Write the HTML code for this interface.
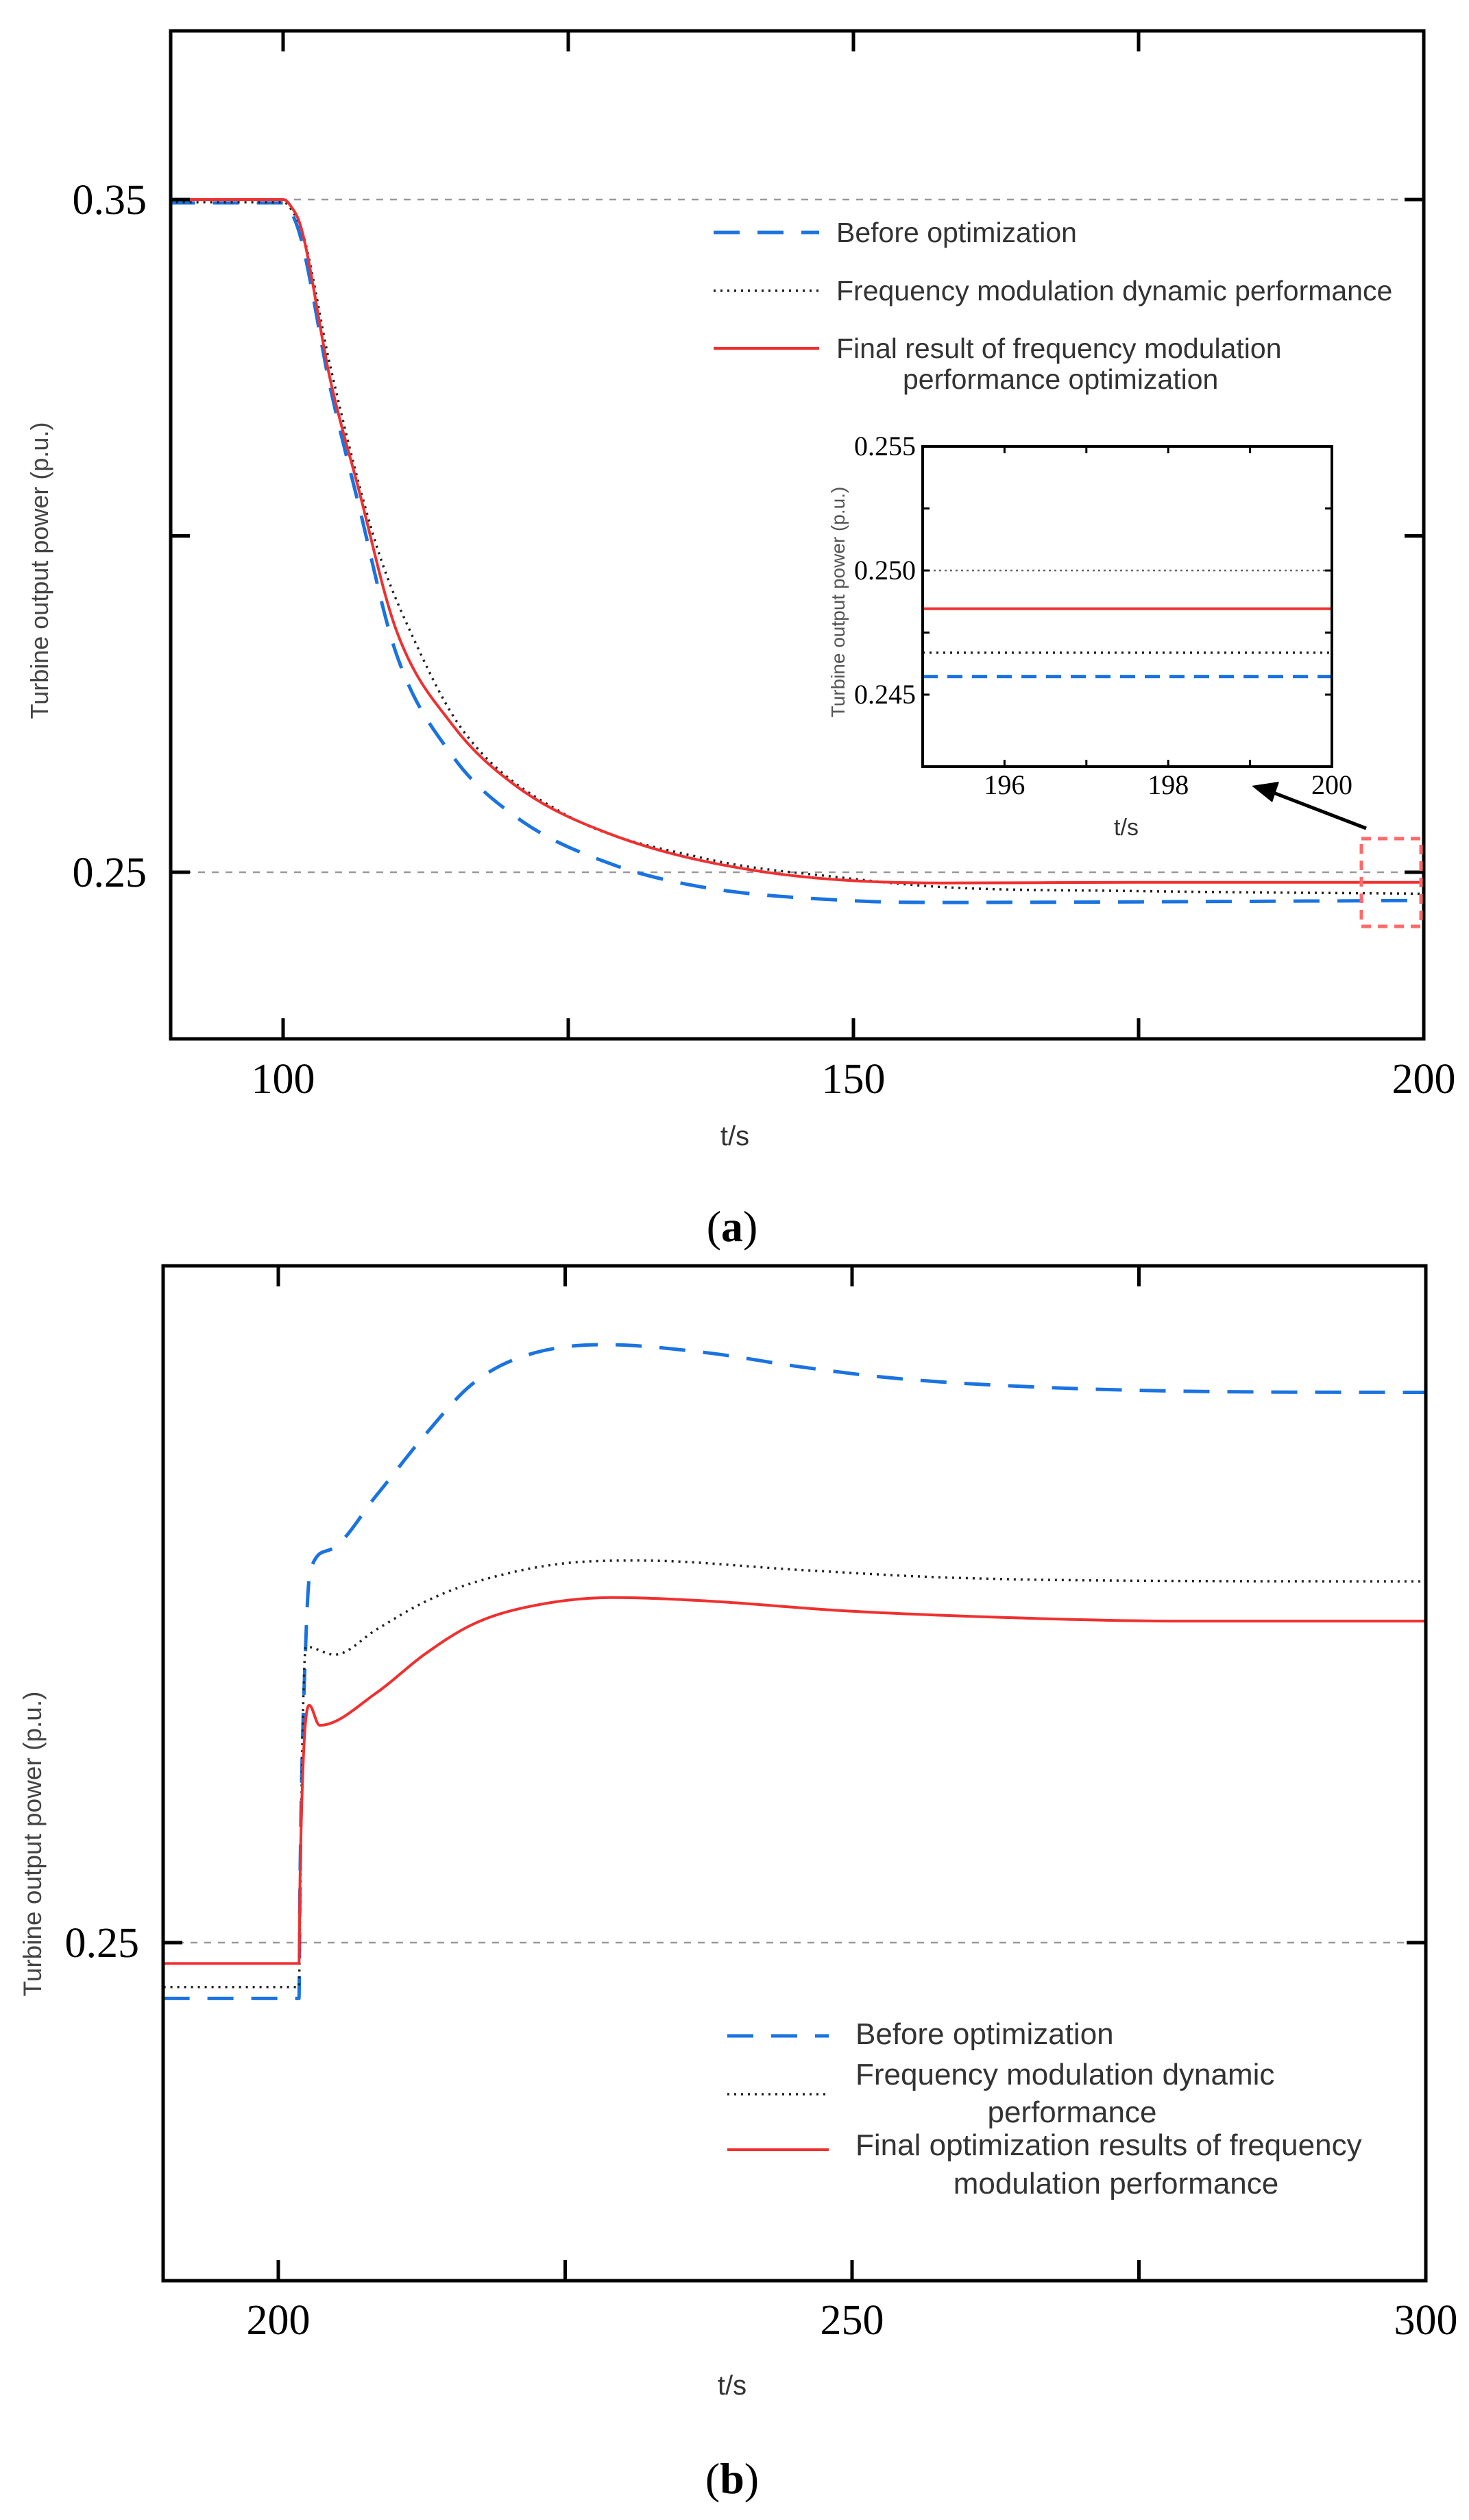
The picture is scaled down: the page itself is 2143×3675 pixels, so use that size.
<!DOCTYPE html>
<html><head><meta charset="utf-8"><style>
html,body{margin:0;padding:0;background:#fff;}
svg{display:block;}
.sans{font-family:"Liberation Sans",sans-serif;}
.serif{font-family:"Liberation Serif",serif;}
</style></head><body>
<svg id="fig" width="2143" height="3675" viewBox="0 0 2143 3675" xmlns="http://www.w3.org/2000/svg"></svg>
<script>
// ---------- Data: panel (a) ----------
const aBlueT = [90,100,100.6,101.6,104.1,106.6,109.9,114.8,120.6,128.8,137.1,149.5,157.8,175,200];
const aBlueV = [0.3495,0.3495,0.3485,0.3440,0.3223,0.3048,0.2826,0.2674,0.2580,0.2512,0.2477,0.2458,0.2455,0.2456,0.2458];
const aDotT = [90,100,100.6,101.8,104.1,108.2,111.5,115.8,124.3,137.1,149.5,157.8,175,200];
const aDotV = [0.3496,0.3496,0.3488,0.3445,0.3255,0.2985,0.2845,0.2710,0.2590,0.2520,0.2491,0.2478,0.2472,0.2468];
const aRedT = [90,100,100.6,101.6,104.1,106.6,109.9,114.8,120.6,128.8,141.2,157.8,175,200];
const aRedV = [0.3500,0.3500,0.3492,0.3457,0.3235,0.3071,0.2861,0.2720,0.2626,0.2556,0.2503,0.2484,0.2485,0.2485];
const aXTicks = [100,150,200];
const aXMinor = [125,175];
const aYTicks = [0.35,0.25];
const aYMinor = [0.30];
// inset
const inLevels = {blue:0.24573, dot:0.24669, red:0.24846};
const inYTicks = [0.255,0.250,0.245];
const inXTicks = [196,198,200];
const inXMinor = [197,199];
// ---------- Data: panel (b) ----------
const bBlueT = [190,201.8,201.9,202.4,202.8,204.5,208.6,212.7,216.8,220.9,228.3,237.3,245.5,253.7,266.0,282.4,300];
const bBlueV = [0.2417,0.2417,0.2600,0.2950,0.3054,0.3084,0.3166,0.3253,0.3329,0.3369,0.3389,0.3377,0.3356,0.3339,0.3326,0.3319,0.3318];
const bDotT = [190,201.8,201.9,202.1,202.4,204.9,208.6,212.7,216.8,225.0,231.5,245.5,257.8,274.3,300];
const bDotV = [0.2434,0.2434,0.2550,0.2800,0.2940,0.2928,0.2966,0.3006,0.3034,0.3064,0.3068,0.3054,0.3043,0.3038,0.3037];
const bRedT = [190,201.8,201.9,202.2,202.7,203.6,208.6,212.7,216.8,220.9,229.1,237.3,249.6,266.0,278.3,300];
const bRedV = [0.2469,0.2469,0.2600,0.2780,0.2853,0.2823,0.2872,0.2928,0.2972,0.2996,0.3013,0.3008,0.2993,0.2982,0.2978,0.2978];
const bXTicks = [200,250,300];
const bXMinor = [225,275];
const bYTicks = [0.25];

const NS="http://www.w3.org/2000/svg";
const svg=document.getElementById('fig');
function el(tag,attrs,parent){const e=document.createElementNS(NS,tag);for(const k in attrs)e.setAttribute(k,attrs[k]);(parent||svg).appendChild(e);return e;}
function txt(s,attrs,parent){const e=el('text',attrs,parent);e.textContent=s;return e;}
// monotone cubic (Fritsch-Carlson) path from data -> pixel via sx, sy
function monoPath(T,V,sx,sy){
  const n=T.length,d=[],m=new Array(n);
  for(let i=0;i<n-1;i++)d.push((V[i+1]-V[i])/(T[i+1]-T[i]));
  m[0]=d[0];m[n-1]=d[n-2];
  for(let i=1;i<n-1;i++){m[i]=(d[i-1]*d[i]<=0)?0:(d[i-1]+d[i])/2;}
  for(let i=0;i<n-1;i++){
    if(d[i]===0){m[i]=0;m[i+1]=0;continue;}
    const a=m[i]/d[i],b=m[i+1]/d[i],s=a*a+b*b;
    if(s>9){const t=3/Math.sqrt(s);m[i]=t*a*d[i];m[i+1]=t*b*d[i];}
  }
  let p='M'+sx(T[0]).toFixed(1)+','+sy(V[0]).toFixed(1);
  for(let i=0;i<n-1;i++){
    const h=T[i+1]-T[i];
    const c1t=T[i]+h/3,c1v=V[i]+m[i]*h/3,c2t=T[i+1]-h/3,c2v=V[i+1]-m[i+1]*h/3;
    p+=' C'+sx(c1t).toFixed(1)+','+sy(c1v).toFixed(1)+' '+sx(c2t).toFixed(1)+','+sy(c2v).toFixed(1)+' '+sx(T[i+1]).toFixed(1)+','+sy(V[i+1]).toFixed(1);
  }
  return p;
}
const STY={
  blue:{stroke:'#1a73e0','stroke-width':5,'stroke-dasharray':'38 26',fill:'none'},
  dot:{stroke:'#222','stroke-width':3.5,'stroke-dasharray':'3 7',fill:'none'},
  red:{stroke:'#f03030','stroke-width':4,fill:'none'}
};

// ---------- Panel (a) ----------
const A={L:249,R:2077,T:45,B:1515};
const ax=t=>413+(t-100)*(2077-413)/100;
const ay=v=>1272-(v-0.25)*(1272-291)/0.10;
const gA=el('g',{});


aYTicks.forEach(v=>{const l=el('line',{x1:A.L,x2:A.R,y1:ay(v),y2:ay(v),stroke:'#999','stroke-width':2.5,'stroke-dasharray':'10 10'},gA);
});
[[aBlueT,aBlueV,'blue'],[aDotT,aDotV,'dot'],[aRedT,aRedV,'red']].forEach(([T,V,k])=>{
  const p=el('path',Object.assign({d:monoPath(T,V,ax,ay)},STY[k]),gA);
  
  
});
const fa=el('rect',{x:A.L,y:A.T,width:A.R-A.L,height:A.B-A.T,fill:'none',stroke:'#000','stroke-width':5},gA);

aXTicks.concat(aXMinor).forEach(t=>{
  el('line',{x1:ax(t),x2:ax(t),y1:A.T,y2:A.T+30,stroke:'#000','stroke-width':5},gA);
  el('line',{x1:ax(t),x2:ax(t),y1:A.B,y2:A.B-30,stroke:'#000','stroke-width':5},gA);
});
aYTicks.concat(aYMinor).forEach(v=>{
  el('line',{x1:A.L,x2:A.L+28,y1:ay(v),y2:ay(v),stroke:'#000','stroke-width':5},gA);
  el('line',{x1:A.R,x2:A.R-28,y1:ay(v),y2:ay(v),stroke:'#000','stroke-width':5},gA);
});
aXTicks.forEach(t=>{const e=txt(String(t),{x:ax(t),y:1594,'text-anchor':'middle','font-size':62,class:'serif',fill:'#000'},gA);
});
aYTicks.forEach(v=>{const e=txt(v.toFixed(2),{x:214,y:ay(v)+21,'text-anchor':'end','font-size':62,class:'serif',fill:'#000'},gA);
});
const xta=txt('t/s',{x:1072,y:1670,'text-anchor':'middle','font-size':40,class:'sans',fill:'#333'},gA);

const yta=txt('Turbine output power (p.u.)',{x:0,y:0,'text-anchor':'middle','font-size':36,class:'sans',fill:'#444',transform:'translate(70,832) rotate(-90)'},gA);

const lgA=el('g',{},gA);

[['blue',339,'Before optimization'],['dot',424,'Frequency modulation dynamic performance'],['red',508,'Final result of frequency modulation']].forEach(([k,y,s])=>{
  el('line',Object.assign({x1:1041,x2:1195,y1:y,y2:y},STY[k]),lgA);
  const e=txt(s,{x:1220,y:y+14,'font-size':41,class:'sans',fill:'#333'},lgA);
  
});
txt('performance optimization',{x:1317,y:567,'font-size':41,class:'sans',fill:'#333'},lgA);
// inset
const I={L:1346,R:1943,T:651,B:1118};
const ix=t=>1346+(t-195)*(1943-1346)/5;
const iy=v=>832-(v-0.250)*(832-651)/0.005;
const gI=el('g',{},gA);

el('rect',{x:I.L,y:I.T,width:I.R-I.L,height:I.B-I.T,fill:'#fff'},gI);
el('line',{x1:I.L,x2:I.R,y1:iy(0.250),y2:iy(0.250),stroke:'#666','stroke-width':2.5,'stroke-dasharray':'3 5'},gI);
[['red',inLevels.red],['dot',inLevels.dot],['blue',inLevels.blue]].forEach(([k,v])=>{
  const s=Object.assign({},STY[k]);if(k==='blue')s['stroke-dasharray']='22 14';
  const l=el('line',Object.assign({x1:I.L,x2:I.R,y1:iy(v),y2:iy(v)},s),gI);
  
});
el('rect',{x:I.L,y:I.T,width:I.R-I.L,height:I.B-I.T,fill:'none',stroke:'#000','stroke-width':4},gI);
inXTicks.concat(inXMinor).forEach(t=>{
  el('line',{x1:ix(t),x2:ix(t),y1:I.B,y2:I.B-10,stroke:'#000','stroke-width':3},gI);
  el('line',{x1:ix(t),x2:ix(t),y1:I.T,y2:I.T+10,stroke:'#000','stroke-width':3},gI);
});
[0.2475,0.2525].concat(inYTicks).forEach(v=>{
  el('line',{x1:I.L,x2:I.L+10,y1:iy(v),y2:iy(v),stroke:'#000','stroke-width':3},gI);
  el('line',{x1:I.R,x2:I.R-10,y1:iy(v),y2:iy(v),stroke:'#000','stroke-width':3},gI);
});
inXTicks.forEach(t=>{const e=txt(String(t),{x:ix(t),y:1158,'text-anchor':'middle','font-size':40,class:'serif',fill:'#000'},gI);
});
inYTicks.forEach(v=>{const e=txt(v.toFixed(3),{x:1336,y:iy(v)+13,'text-anchor':'end','font-size':40,class:'serif',fill:'#000'},gI);
});
txt('t/s',{x:1643,y:1218,'text-anchor':'middle','font-size':34,class:'sans',fill:'#333'},gI);
txt('Turbine output power (p.u.)',{x:0,y:0,'text-anchor':'middle','font-size':28,class:'sans',fill:'#555',transform:'translate(1232,878) rotate(-90)'},gI);
const ar=el('line',{x1:1993,y1:1208,x2:1850,y2:1153,stroke:'#000','stroke-width':5},gA);

el('polygon',{points:'1826,1146 1866,1140 1856,1170',fill:'#000'},gA);
const zb=el('rect',{x:1986,y:1223,width:87,height:128,fill:'none',stroke:'#ff6a6a','stroke-width':5,'stroke-dasharray':'14 10'},gA);

const capA=el('text',{x:1068,y:1810,'text-anchor':'middle','font-size':64,class:'serif',fill:'#000'},gA);
capA.innerHTML='(<tspan font-weight="bold">a</tspan>)';


// ---------- Panel (b) ----------
const B={L:238,R:2080,T:1846,B:3326};
const bx=t=>406+(t-200)*(2080-406)/100;
const by=v=>2833-(v-0.25)*9810;
const gB=el('g',{});

bYTicks.forEach(v=>{const l=el('line',{x1:B.L,x2:B.R,y1:by(v),y2:by(v),stroke:'#999','stroke-width':2.5,'stroke-dasharray':'10 10'},gB);
});
[[bBlueT,bBlueV,'blue'],[bDotT,bDotV,'dot'],[bRedT,bRedV,'red']].forEach(([T,V,k])=>{
  const p=el('path',Object.assign({d:monoPath(T,V,bx,by)},STY[k]),gB);
  
  
});
const fb=el('rect',{x:B.L,y:B.T,width:B.R-B.L,height:B.B-B.T,fill:'none',stroke:'#000','stroke-width':5},gB);

bXTicks.concat(bXMinor).forEach(t=>{
  el('line',{x1:bx(t),x2:bx(t),y1:B.T,y2:B.T+30,stroke:'#000','stroke-width':5},gB);
  el('line',{x1:bx(t),x2:bx(t),y1:B.B,y2:B.B-30,stroke:'#000','stroke-width':5},gB);
});
bYTicks.forEach(v=>{
  el('line',{x1:B.L,x2:B.L+28,y1:by(v),y2:by(v),stroke:'#000','stroke-width':5},gB);
  el('line',{x1:B.R,x2:B.R-28,y1:by(v),y2:by(v),stroke:'#000','stroke-width':5},gB);
});
bXTicks.forEach(t=>{const e=txt(String(t),{x:bx(t),y:3404,'text-anchor':'middle','font-size':62,class:'serif',fill:'#000'},gB);
});
bYTicks.forEach(v=>{const e=txt(v.toFixed(2),{x:203,y:by(v)+21,'text-anchor':'end','font-size':62,class:'serif',fill:'#000'},gB);
});
const xtb=txt('t/s',{x:1068,y:3492,'text-anchor':'middle','font-size':40,class:'sans',fill:'#333'},gB);

const ytb=txt('Turbine output power (p.u.)',{x:0,y:0,'text-anchor':'middle','font-size':37,class:'sans',fill:'#444',transform:'translate(60,2689) rotate(-90)'},gB);

const lgB=el('g',{},gB);

[['blue',2969],['dot',3054],['red',3135]].forEach(([k,y])=>{el('line',Object.assign({x1:1061,x2:1209,y1:y,y2:y},STY[k]),lgB);});
[['Before optimization',1248,2981,'start'],['Frequency modulation dynamic',1248,3040,'start'],['performance',1564,3095,'middle'],
 ['Final optimization results of frequency',1248,3143,'start'],['modulation performance',1628,3199,'middle']].forEach(([s,x,y,a])=>{
  const e=txt(s,{x:x,y:y,'text-anchor':a,'font-size':44,class:'sans',fill:'#333'},lgB);
  
});
const capB=el('text',{x:1068,y:3636,'text-anchor':'middle','font-size':64,class:'serif',fill:'#000'},gB);
capB.innerHTML='(<tspan font-weight="bold">b</tspan>)';

</script>
</body></html>
